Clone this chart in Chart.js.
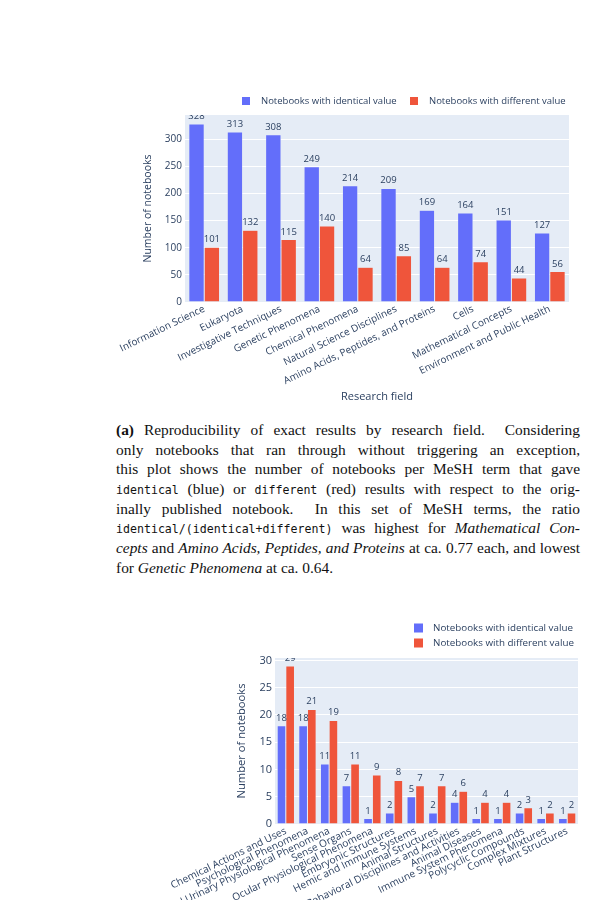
<!DOCTYPE html>
<html>
<head>
<meta charset="utf-8">
<script src="https://cdn.jsdelivr.net/npm/chart.js@4.4.0/dist/chart.umd.min.js"></script>
<style>
  body { margin: 0; width: 600px; height: 900px; background: #fff; position: relative; overflow: hidden; }
  canvas { position: absolute; left: 0; }
  #c1 { top: 90px; }
  #c2 { top: 600px; }
  .caption { position: absolute; left: 116px; top: 420px; width: 464px;
    font-family: "Liberation Serif", serif; font-size: 15.4px; line-height: 19.7px; color: #111; }
  .caption div { height: 19.7px; text-align: justify; text-align-last: justify; white-space: nowrap; }
  .caption div.last { text-align-last: left; }
  .caption code { font-family: "DejaVu Sans Mono", monospace; font-size: 11.6px; line-height: 0; }
</style>
</head>
<body>
<canvas id="c1" width="600" height="320"></canvas>
<div class="caption">
  <div><b>(a)</b> Reproducibility of exact results by research field.&nbsp; Considering</div>
  <div>only notebooks that ran through without triggering an exception,</div>
  <div>this plot shows the number of notebooks per MeSH term that gave</div>
  <div><code>identical</code> (blue) or <code>different</code> (red) results with respect to the orig-</div>
  <div>inally published notebook.&nbsp; In this set of MeSH terms, the ratio</div>
  <div><code>identical/(identical+different)</code> was highest for <i>Mathematical Con-</i></div>
  <div><i>cepts</i> and <i>Amino Acids, Peptides, and Proteins</i> at ca. 0.77 each, and lowest</div>
  <div class="last">for <i>Genetic Phenomena</i> at ca. 0.64.</div>
</div>
<canvas id="c2" width="600" height="300"></canvas>
<script>
// chart (a): research fields
const fields = ['Information Science', 'Eukaryota', 'Investigative Techniques', 'Genetic Phenomena',
  'Chemical Phenomena', 'Natural Science Disciplines', 'Amino Acids, Peptides, and Proteins',
  'Cells', 'Mathematical Concepts', 'Environment and Public Health'];
const identicalA = [328, 313, 308, 249, 214, 209, 169, 164, 151, 127];
const differentA = [101, 132, 115, 140, 64, 85, 64, 74, 44, 56];
const ticksA = [0, 50, 100, 150, 200, 250, 300];

// chart (b): second set of MeSH terms
const terms = ['Chemical Actions and Uses', 'Psychological Phenomena',
  'Reproductive and Urinary Physiological Phenomena', 'Sense Organs', 'Ocular Physiological Phenomena',
  'Embryonic Structures', 'Hemic and Immune Systems', 'Animal Structures',
  'Behavioral Disciplines and Activities', 'Animal Diseases', 'Immune System Phenomena',
  'Polycyclic Compounds', 'Complex Mixtures', 'Plant Structures'];
const identicalB = [18, 18, 11, 7, 1, 2, 5, 2, 4, 1, 1, 2, 1, 1];
const differentB = [29, 21, 19, 11, 9, 8, 7, 7, 6, 4, 4, 3, 2, 2];
const ticksB = [0, 5, 10, 15, 20, 25, 30];

const BLUE = '#636EFA';
const RED = '#EF553B';
const INK = '#2a3f5f';
const FONT = '"Open Sans", sans-serif';

// plot background like plotly
const bgPlugin = {
  id: 'plotBg',
  beforeDraw(chart) {
    const { ctx, chartArea: a } = chart;
    ctx.save();
    ctx.fillStyle = '#E5ECF6';
    ctx.fillRect(a.left, a.top, a.right - a.left, a.bottom - a.top);
    ctx.restore();
  }
};

// numbers above each bar
const valuePlugin = {
  id: 'barValues',
  afterDatasetsDraw(chart, args, opts) {
    const { ctx, chartArea: a } = chart;
    ctx.save();
    ctx.beginPath();
    ctx.rect(a.left, a.top, a.right - a.left, a.bottom - a.top);
    ctx.clip();
    ctx.font = opts.size + 'px ' + FONT;
    ctx.fillStyle = INK;
    ctx.textAlign = 'center';
    ctx.textBaseline = 'bottom';
    chart.data.datasets.forEach((ds, i) => {
      chart.getDatasetMeta(i).data.forEach((bar, j) => {
        ctx.fillText(ds.data[j], bar.x, bar.y - 3);
      });
    });
    ctx.restore();
  }
};

// legend drawn by hand so it sits where plotly put it
const legendPlugin = {
  id: 'handLegend',
  afterDraw(chart, args, opts) {
    const ctx = chart.ctx;
    const s = opts.box;
    ctx.save();
    ctx.font = opts.size + 'px ' + FONT;
    ctx.textBaseline = 'middle';
    chart.data.datasets.forEach((ds, i) => {
      const p = opts.items[i];
      ctx.fillStyle = ds.backgroundColor;
      ctx.fillRect(p[0], p[1] - s / 2, s, s);
      ctx.fillStyle = INK;
      ctx.fillText(ds.label, p[0] + 19, p[1]);
    });
    ctx.restore();
  }
};

function makeChart(id, labels, ident, diff, ticks, cfg) {
  return new Chart(document.getElementById(id), {
    type: 'bar',
    data: {
      labels: labels,
      datasets: [
        { label: 'Notebooks with identical value', data: ident, backgroundColor: BLUE,
          borderColor: '#E5ECF6', borderWidth: 0.5, categoryPercentage: 0.8, barPercentage: 1.0 },
        { label: 'Notebooks with different value', data: diff, backgroundColor: RED,
          borderColor: '#E5ECF6', borderWidth: 0.5, categoryPercentage: 0.8, barPercentage: 1.0 }
      ]
    },
    plugins: [bgPlugin, valuePlugin, legendPlugin],
    options: {
      responsive: false,
      animation: false,
      layout: { padding: cfg.padding },
      scales: {
        x: {
          grid: { display: false, drawTicks: false },
          border: { display: false },
          ticks: { autoSkip: false, minRotation: cfg.angle, maxRotation: cfg.angle, color: INK,
                   font: { family: FONT, size: cfg.catSize }, padding: 1 },
          title: { display: !!cfg.xTitle, text: cfg.xTitle, color: INK,
                   font: { family: FONT, size: 11 } },
          afterFit(scale) { scale.height = cfg.xHeight; }
        },
        y: {
          min: 0,
          max: cfg.yMax,
          border: { display: false },
          grid: { color: '#ffffff', lineWidth: 1, drawTicks: false },
          afterBuildTicks(scale) { scale.ticks = ticks.map(v => ({ value: v })); },
          ticks: { color: INK, font: { family: FONT, size: cfg.numSize }, padding: 3 },
          title: { display: true, text: 'Number of notebooks', color: INK,
                   font: { family: FONT, size: cfg.yTitleSize } },
          afterFit(scale) { scale.width = cfg.yWidth; }
        }
      },
      plugins: {
        legend: { display: false },
        tooltip: { enabled: false },
        barValues: { size: cfg.valSize },
        handLegend: { size: cfg.legSize, box: cfg.legBox, items: cfg.legend }
      }
    }
  });
}

makeChart('c1', fields, identicalA, differentA, ticksA, {
  padding: { left: 138, right: 31, top: 25, bottom: 3 },
  yWidth: 47, xHeight: 105, yMax: 344.4, angle: 26,
  xTitle: 'Research field',
  catSize: 10, numSize: 10, valSize: 9.5, yTitleSize: 10.5, legSize: 9.5, legBox: 8,
  legend: [[242, 11], [410, 11]]
});

makeChart('c2', terms, identicalB, differentB, ticksB, {
  padding: { left: 231, right: 22, top: 58, bottom: 0 },
  yWidth: 44, xHeight: 76, yMax: 30.45, angle: 26,
  xTitle: '',
  catSize: 10.2, numSize: 11, valSize: 9.5, yTitleSize: 11.2, legSize: 9.8, legBox: 9,
  legend: [[414, 28], [414, 43]]
});
</script>
</body>
</html>
